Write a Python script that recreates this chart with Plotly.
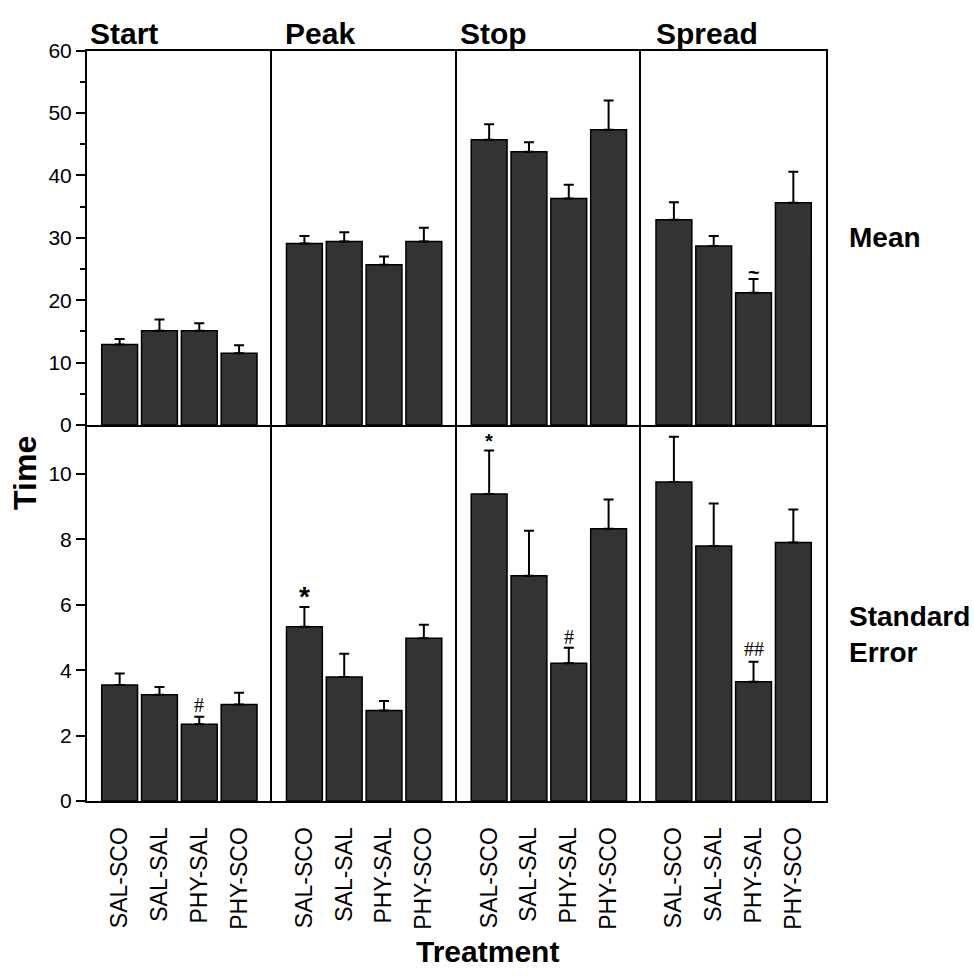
import plotly.graph_objects as go
from plotly.subplots import make_subplots

categories = ["SAL-SCO", "SAL-SAL", "PHY-SAL", "PHY-SCO"]
phases = ["Start", "Peak", "Stop", "Spread"]

mean_start = [12.9, 15.1, 15.1, 11.5]
mean_start_err = [0.9, 1.8, 1.2, 1.3]
mean_peak = [29.1, 29.4, 25.7, 29.4]
mean_peak_err = [1.2, 1.5, 1.3, 2.2]
mean_stop = [45.7, 43.8, 36.3, 47.3]
mean_stop_err = [2.5, 1.5, 2.2, 4.7]
mean_spread = [32.9, 28.7, 21.2, 35.6]
mean_spread_err = [2.8, 1.6, 2.2, 5.0]

se_start = [3.55, 3.25, 2.35, 2.95]
se_start_err = [0.35, 0.24, 0.23, 0.36]
se_peak = [5.33, 3.79, 2.77, 4.98]
se_peak_err = [0.60, 0.71, 0.29, 0.41]
se_stop = [9.39, 6.89, 4.21, 8.33]
se_stop_err = [1.33, 1.38, 0.48, 0.89]
se_spread = [9.76, 7.80, 3.65, 7.91]
se_spread_err = [1.38, 1.30, 0.61, 1.01]

# significance marks: (row, col, category, y, text, size, bold)
marks = [
    (1, 4, "PHY-SAL", 24.6, "~", 20, True),
    (2, 1, "PHY-SAL", 2.95, "#", 20, False),
    (2, 2, "SAL-SCO", 6.25, "*", 28, True),
    (2, 3, "SAL-SCO", 11.02, "*", 20, True),
    (2, 3, "PHY-SAL", 5.02, "#", 20, False),
    (2, 4, "PHY-SAL", 4.65, "##", 20, False),
]

FONT = "Liberation Sans, Arial, Helvetica, sans-serif"
W, H = 974, 977

rows_data = [
    [(mean_start, mean_start_err), (mean_peak, mean_peak_err),
     (mean_stop, mean_stop_err), (mean_spread, mean_spread_err)],
    [(se_start, se_start_err), (se_peak, se_peak_err),
     (se_stop, se_stop_err), (se_spread, se_spread_err)],
]

fig = make_subplots(rows=2, cols=4, horizontal_spacing=0, vertical_spacing=0)

for r in range(2):
    for c in range(4):
        vals, errs = rows_data[r][c]
        fig.add_trace(go.Bar(
            x=categories, y=vals, width=0.9,
            marker=dict(color="#333333", line=dict(color="black", width=1.5)),
            error_y=dict(type="data", array=errs, arrayminus=[0] * len(errs),
                         symmetric=False, color="black", thickness=2, width=5),
            showlegend=False,
        ), row=r + 1, col=c + 1)

# pixel geometry
x_left, x_right = 87, 826
pw = (x_right - x_left) / 4
y_top, y_mid, y_bot = 39.5, 423, 808

def py(p):
    return 1 - p / H

for r in range(2):
    for c in range(4):
        n = r * 4 + c + 1
        xa = "xaxis" if n == 1 else f"xaxis{n}"
        ya = "yaxis" if n == 1 else f"yaxis{n}"
        x0 = (x_left + pw * c) / W
        x1 = (x_left + pw * (c + 1)) / W
        if r == 0:
            yd = [py(y_mid), py(y_top)]
        else:
            yd = [py(y_bot), py(y_mid)]
        fig.layout[xa].update(
            domain=[x0, x1], range=[-0.82, 3.82], type="category",
            showline=True, mirror=(r == 0), linecolor="black", linewidth=2,
            showgrid=False, zeroline=False,
            showticklabels=(r == 1),
            ticks="outside" if r == 1 else "", ticklen=15,
            tickcolor="rgba(0,0,0,0)", tickangle=-90,
            tickfont=dict(family=FONT, size=23, color="black"),
        )
        yaxis_kw = dict(
            domain=yd, showline=True, mirror=(c == 3), linecolor="black",
            linewidth=2, showgrid=False, zeroline=False,
        )
        if r == 0:
            yaxis_kw.update(range=[0, 60])
        else:
            yaxis_kw.update(range=[0, 11.5])
        if c == 0:
            yaxis_kw.update(
                showticklabels=True, ticks="outside", ticklen=9, tickwidth=2,
                tickcolor="black",
                tickfont=dict(family=FONT, size=21, color="black"),
            )
            if r == 0:
                yaxis_kw.update(tickvals=[0, 10, 20, 30, 40, 50, 60],
                                minor=dict(tickvals=[5, 15, 25, 35, 45, 55],
                                           ticks="outside", ticklen=5,
                                           tickwidth=2, tickcolor="black"))
            else:
                yaxis_kw.update(tickvals=[0, 2, 4, 6, 8, 10])
        else:
            yaxis_kw.update(showticklabels=False, ticks="")
        fig.layout[ya].update(**yaxis_kw)

# significance marks
for (r, c, cat, yv, txt, size, bold) in marks:
    n = (r - 1) * 4 + c
    xr = "x" if n == 1 else f"x{n}"
    yr = "y" if n == 1 else f"y{n}"
    fig.add_annotation(
        x=cat, y=yv, xref=xr, yref=yr, text=f"<b>{txt}</b>" if bold else txt,
        showarrow=False, xanchor="center", yanchor="middle",
        font=dict(family=FONT if bold else "Liberation Serif, Times New Roman, serif",
                  size=size, color="black"),
    )

# column titles
title_x = [88, 283, 458, 654]
for name, tx in zip(phases, title_x):
    fig.add_annotation(
        x=tx / W, y=py(22), xref="paper", yref="paper", text=f"<b>{name}</b>",
        showarrow=False, xanchor="left", yanchor="middle",
        font=dict(family=FONT, size=30, color="black"),
    )

# row labels
fig.add_annotation(
    x=847 / W, y=py(231), xref="paper", yref="paper", text="<b>Mean</b>",
    showarrow=False, xanchor="left", yanchor="middle",
    font=dict(family=FONT, size=28, color="black"),
)
fig.add_annotation(
    x=847 / W, y=py(638), xref="paper", yref="paper",
    text="<b>Standard</b><br><b>Error</b>", align="left",
    showarrow=False, xanchor="left", yanchor="middle",
    font=dict(family=FONT, size=28, color="black"),
)

# axis titles
fig.add_annotation(
    x=25 / W, y=py(472), xref="paper", yref="paper", text="<b>Time</b>",
    showarrow=False, textangle=-90, xanchor="center", yanchor="middle",
    font=dict(family=FONT, size=32, color="black"),
)
fig.add_annotation(
    x=487 / W, y=py(962), xref="paper", yref="paper", text="<b>Treatment</b>",
    showarrow=False, xanchor="center", yanchor="middle",
    font=dict(family=FONT, size=30, color="black"),
)

fig.update_layout(
    width=W, height=H, margin=dict(l=0, r=0, t=0, b=0),
    plot_bgcolor="white", paper_bgcolor="white", bargap=0.1,
)

fig.write_html("out.html")
